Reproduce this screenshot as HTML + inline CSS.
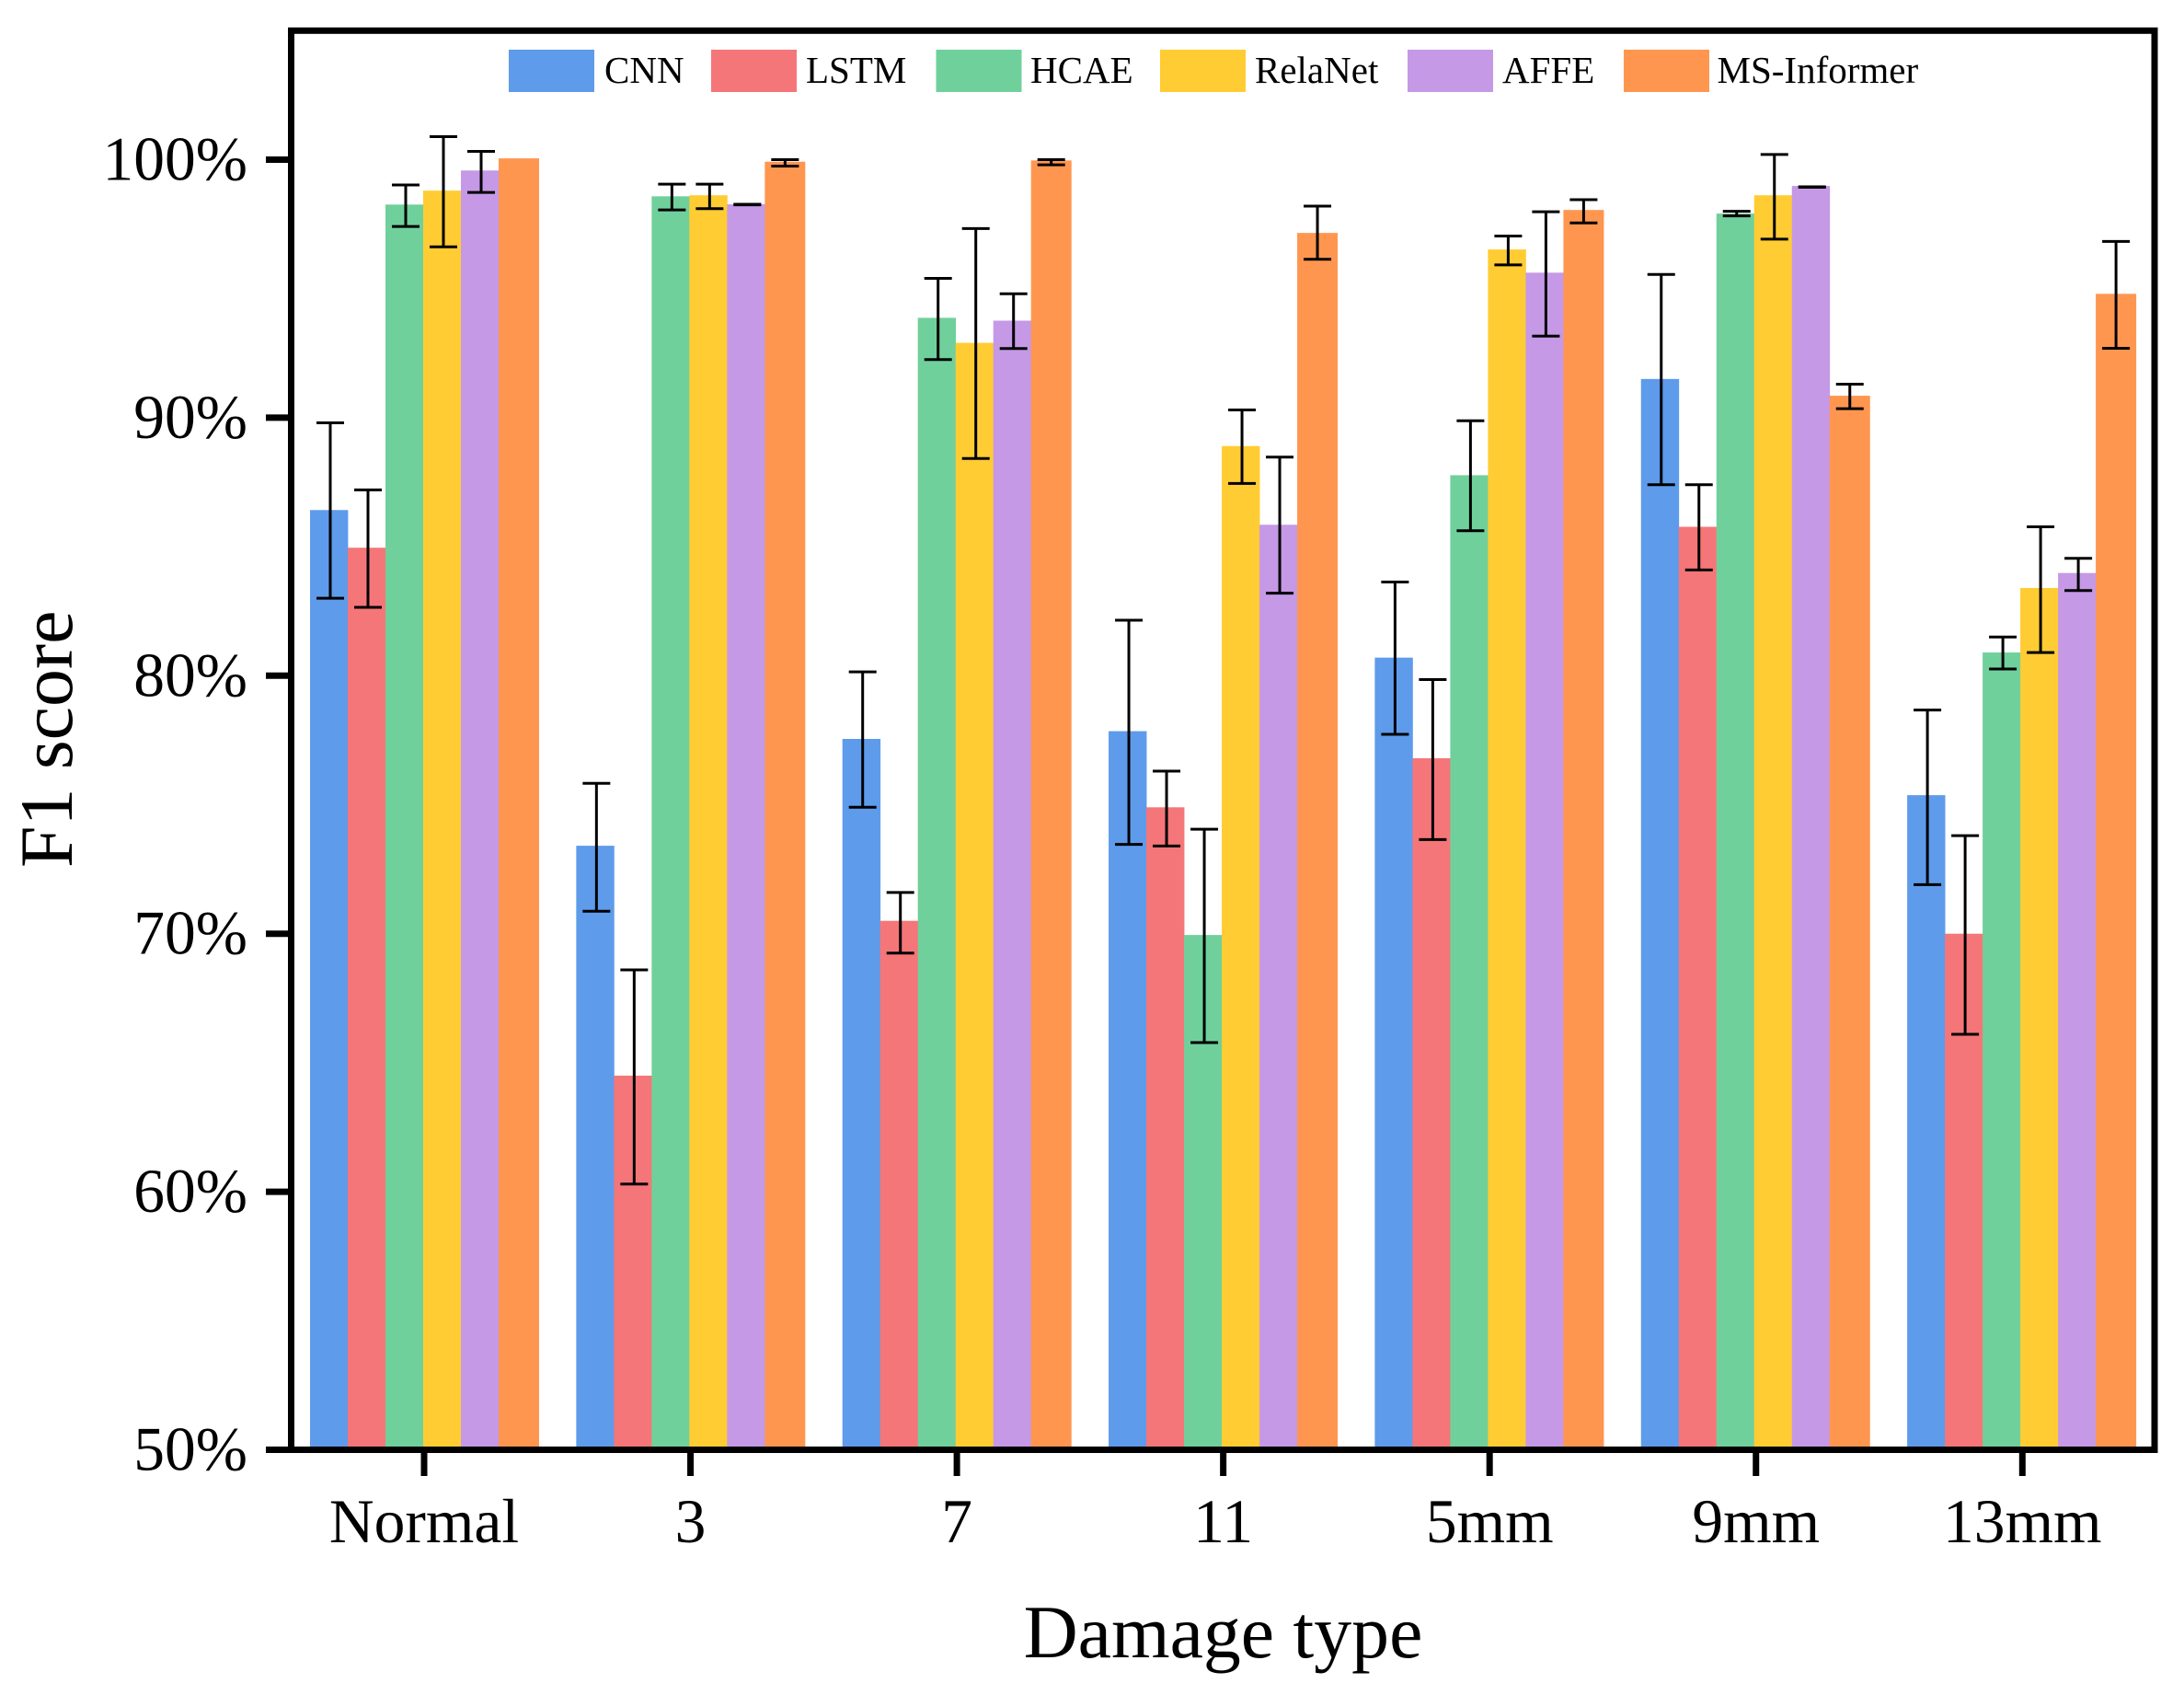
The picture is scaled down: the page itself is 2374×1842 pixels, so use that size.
<!DOCTYPE html>
<html lang="en">
<head>
<meta charset="utf-8">
<title>F1 score by damage type</title>
<style>
  html, body { margin: 0; padding: 0; background: #fff; }
  svg { display: block; font-family: "Liberation Serif", "Times New Roman", serif; }
</style>
</head>
<body>
<svg id="chart" xmlns="http://www.w3.org/2000/svg" width="2374" height="1842" viewBox="0 0 2374 1842">
  <rect x="0" y="0" width="2374" height="1842" fill="#ffffff"/>
  <g id="bars"></g>
  <g id="errors"></g>
  <g id="axes"></g>
  <g id="legend"></g>
</svg>
<script>
const categories = ["Normal", "3", "7", "11", "5mm", "9mm", "13mm"];
const seriesNames = ["CNN", "LSTM", "HCAE", "RelaNet", "AFFE", "MS-Informer"];
const seriesColors = ["#5E9BEB", "#F57678", "#70D09B", "#FFCC33", "#C599E6", "#FF9650"];
const yTicks = [50, 60, 70, 80, 90, 100];

const cnnValues = [86.42, 73.41, 77.55, 77.85, 80.70, 91.50, 75.37];
const cnnHigh = [89.80, 75.83, 80.15, 82.15, 83.63, 95.55, 78.67];
const cnnLow = [83.00, 70.87, 74.90, 73.46, 77.73, 87.40, 71.90];

const lstmValues = [84.96, 64.50, 70.50, 74.90, 76.80, 85.77, 70.00];
const lstmHigh = [87.20, 68.60, 71.60, 76.30, 79.85, 87.40, 73.80];
const lstmLow = [82.65, 60.30, 69.25, 73.40, 73.65, 84.10, 66.10];

const hcaeValues = [98.26, 98.58, 93.87, 69.95, 87.77, 97.91, 80.90];
const hcaeHigh = [99.02, 99.05, 95.40, 74.05, 89.88, 98.00, 81.50];
const hcaeLow = [97.41, 98.05, 92.25, 65.78, 85.62, 97.82, 80.26];

const relaNetValues = [98.80, 98.62, 92.90, 88.90, 96.52, 98.62, 83.40];
const relaNetHigh = [100.89, 99.05, 97.33, 90.30, 97.04, 100.20, 85.77];
const relaNetLow = [96.62, 98.10, 88.42, 87.45, 95.92, 96.92, 80.90];

const affeValues = [99.58, 98.27, 93.76, 85.85, 95.62, 98.98, 83.98];
const affeHigh = [100.32, 98.27, 94.80, 88.47, 97.98, 98.95, 84.55];
const affeLow = [98.73, 98.25, 92.68, 83.20, 93.16, 98.93, 83.30];

const msInformerValues = [100.05, 99.92, 99.97, 97.16, 98.05, 90.85, 94.80];
const msInformerHigh = [null, 100.00, 100.00, 98.20, 98.45, 91.30, 96.83];
const msInformerLow = [null, 99.75, 99.80, 96.14, 97.55, 90.35, 92.69];

const allValues = [cnnValues, lstmValues, hcaeValues, relaNetValues, affeValues, msInformerValues];
const allHigh = [cnnHigh, lstmHigh, hcaeHigh, relaNetHigh, affeHigh, msInformerHigh];
const allLow = [cnnLow, lstmLow, hcaeLow, relaNetLow, affeLow, msInformerLow];

const NS = "http://www.w3.org/2000/svg";
const PLOT_LEFT = 316.5;
const PLOT_RIGHT = 2342;
const PLOT_TOP = 33.3;
const PLOT_BOTTOM = 1575.5;
const Y_MIN = 50;
const Y_MAX = 105;

function yScale(v) {
  return PLOT_BOTTOM - (v - Y_MIN) / (Y_MAX - Y_MIN) * (PLOT_BOTTOM - PLOT_TOP);
}
function xScale(i) {
  return 461 + i * 289.55;
}
function barGroupLeft(i) {
  return 337 + i * 289.35;
}
function slug(s) {
  return String(s).toLowerCase().replace(/[^a-z0-9]+/g, "-");
}
function make(tag, attrs, parent) {
  const el = document.createElementNS(NS, tag);
  for (const k in attrs) el.setAttribute(k, attrs[k]);
  parent.appendChild(el);
  return el;
}

const barsG = document.getElementById("bars");
const errorsG = document.getElementById("errors");
const axesG = document.getElementById("axes");
const legendG = document.getElementById("legend");

/* bars */
allValues.forEach(function (values, s) {
  values.forEach(function (v, c) {
    const left = barGroupLeft(c) + s * 41;
    const w = s === 5 ? 44 : 41.4;
    const el = make("rect", { x: left, y: yScale(v), width: w, height: PLOT_BOTTOM - yScale(v), fill: seriesColors[s] }, barsG);
    
    
  });
});

/* error bars */
allHigh.forEach(function (highs, s) {
  highs.forEach(function (hi, c) {
    const lo = allLow[s][c];
    if (hi === null || lo === null) return;
    const cx = barGroupLeft(c) + 22 + s * 41;
    const g = make("g", { stroke: "#000", "stroke-width": 3, fill: "none" }, errorsG);
    
    
    make("line", { x1: cx, x2: cx, y1: yScale(hi), y2: yScale(lo) }, g);
    make("line", { x1: cx - 15, x2: cx + 15, y1: yScale(hi), y2: yScale(hi) }, g);
    make("line", { x1: cx - 15, x2: cx + 15, y1: yScale(lo), y2: yScale(lo) }, g);
  });
});

/* y ticks + labels */
yTicks.forEach(function (t) {
  const y = yScale(t);
  const tick = make("line", { x1: 289, x2: PLOT_LEFT, y1: y, y2: y, stroke: "#000", "stroke-width": 7 }, axesG);
  
  
  const label = make("text", { x: 269, y: y + 22, "text-anchor": "end", "font-size": 67.5, fill: "#000" }, axesG);
  label.textContent = t + "%";
  
  
});

/* x ticks + labels */
categories.forEach(function (cat, c) {
  const x = xScale(c);
  const tick = make("line", { x1: x, x2: x, y1: PLOT_BOTTOM, y2: 1604, stroke: "#000", "stroke-width": 7 }, axesG);
  
  
  const label = make("text", { x: x, y: 1676, "text-anchor": "middle", "font-size": 67.5, fill: "#000" }, axesG);
  label.textContent = cat;
  
  
});

/* plot frame */
const frame = make("rect", { x: PLOT_LEFT, y: PLOT_TOP, width: PLOT_RIGHT - PLOT_LEFT, height: PLOT_BOTTOM - PLOT_TOP, fill: "none", stroke: "#000", "stroke-width": 7 }, axesG);



/* axis titles */
const xTitle = make("text", { x: 1329.5, y: 1801, "text-anchor": "middle", "font-size": 81.8, fill: "#000" }, axesG);
xTitle.textContent = "Damage type";



const yTitle = make("text", { x: 0, y: 0, transform: "translate(78 943) rotate(-90)", "text-anchor": "start", "font-size": 81.8, fill: "#000" }, axesG);
yTitle.textContent = "F1 score";



/* legend */
const legendSwatchLeft = [553, 773, 1017.5, 1261, 1530, 1765];
const legendLabelLeft = [657, 876, 1120, 1364, 1633, 1866.5];
seriesNames.forEach(function (name, s) {
  const g = make("g", {}, legendG);
  
  
  const sw = make("rect", { x: legendSwatchLeft[s], y: 54, width: 93, height: 46, fill: seriesColors[s] }, g);
  
  
  const tx = make("text", { x: legendLabelLeft[s], y: 90, "font-size": 41, fill: "#000" }, g);
  tx.textContent = name;
  
  
});
</script>
</body>
</html>
